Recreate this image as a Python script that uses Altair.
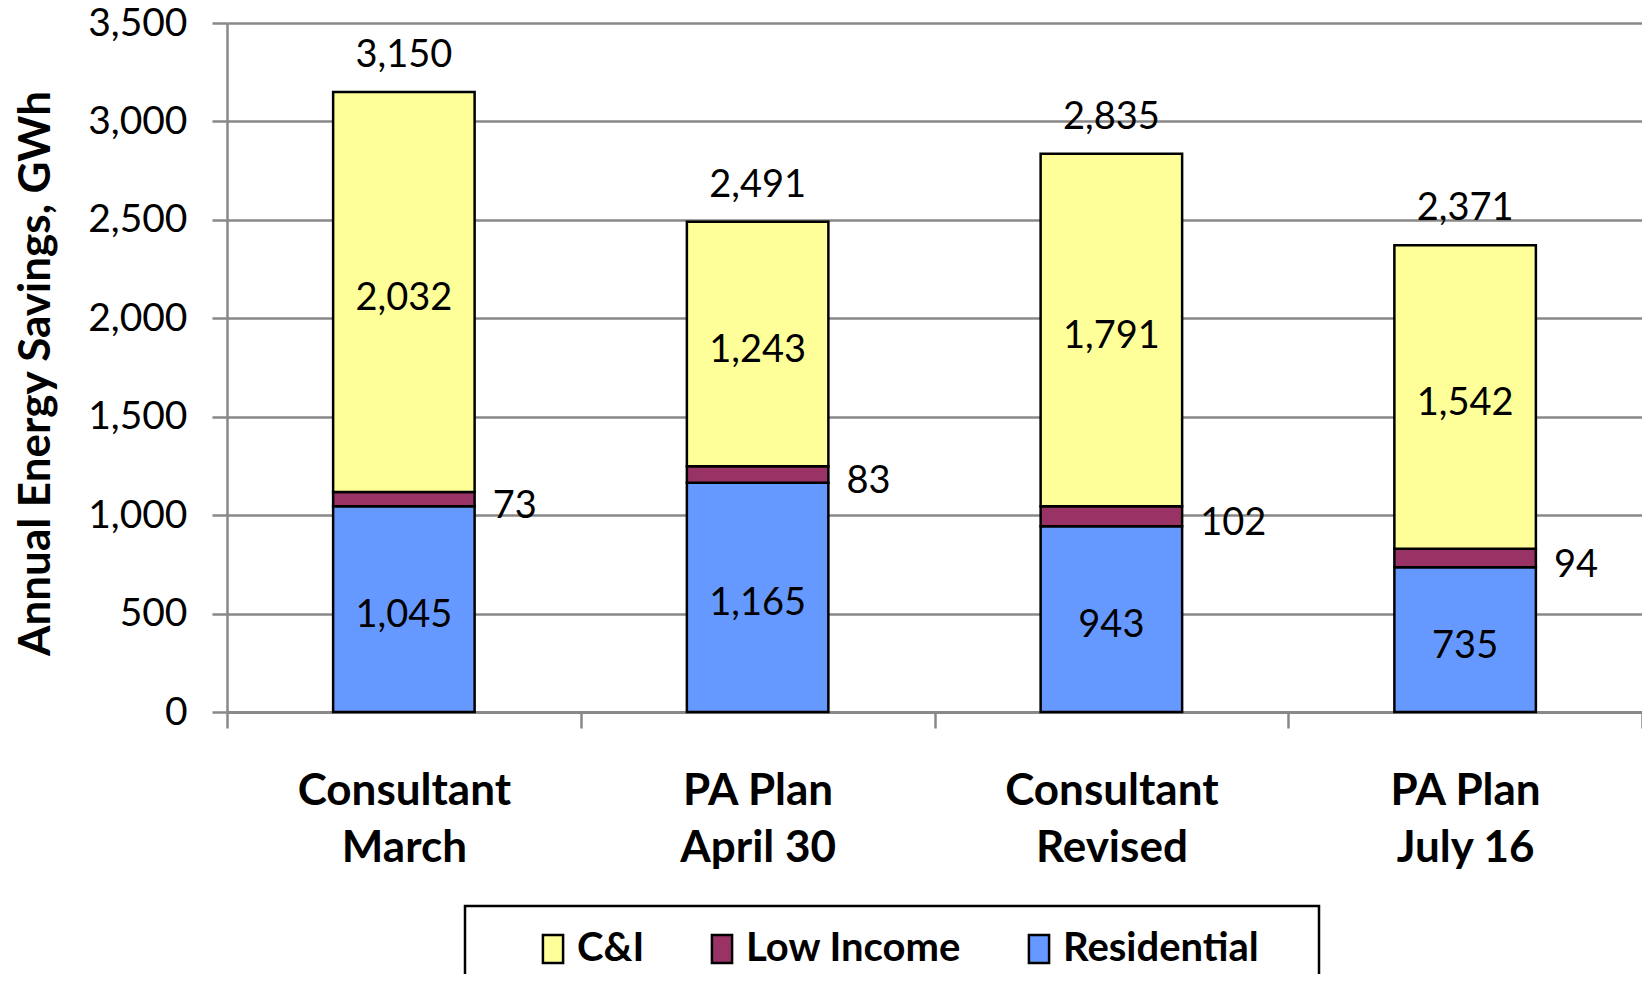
import altair as alt
import pandas as pd

categories = ["Consultant|March", "PA Plan|April 30", "Consultant|Revised", "PA Plan|July 16"]
residential = [1045, 1165, 943, 735]
low_income = [73, 83, 102, 94]
ci = [2032, 1243, 1791, 1542]
totals = [3150, 2491, 2835, 2371]

series_names = ["C&I", "Low Income", "Residential"]
series_colors = ["#FFFF99", "#993366", "#6699FF"]

rows = []
for i, cat in enumerate(categories):
    base = 0
    for name, vals in [("Residential", residential), ("Low Income", low_income), ("C&I", ci)]:
        v = vals[i]
        rows.append({"cat": cat, "series": name, "value": v, "y0": base, "y1": base + v,
                     "mid": base + v / 2, "label": f"{v:,}"})
        base += v
df = pd.DataFrame(rows)
tot_df = pd.DataFrame({"cat": categories, "total": totals, "label": [f"{t:,}" for t in totals]})

FONT = "Lato"
GRAY = "#888888"

xscale = alt.Scale(domain=categories, paddingInner=0, paddingOuter=0)
yscale = alt.Scale(domain=[0, 3500], nice=False)

x_axis = alt.Axis(title=None, labelAngle=0, tickBand="extent", tickSize=16, tickWidth=2.5,
                  tickColor=GRAY, domainColor=GRAY, domainWidth=3, labelFont=FONT,
                  labelFontWeight="bold", labelFontSize=44, labelLineHeight=57,
                  labelPadding=41, labelColor="black", labelExpr="split(datum.label, '|')",
                  labelLimit=1000, grid=False)
y_axis = alt.Axis(title="Annual Energy Savings, GWh", values=[0, 500, 1000, 1500, 2000, 2500, 3000, 3500],
                  format=",.0f", labelFont=FONT, labelFontSize=39, labelColor="black", labelPadding=25,
                  tickSize=15, tickWidth=2.5, tickColor=GRAY, gridColor=GRAY, gridWidth=2.5,
                  domainColor=GRAY, domainWidth=2.5, titleFont=FONT, titleFontWeight="bold",
                  titleFontSize=44, titleColor="black", titlePadding=29, titleY=350, labelLimit=1000)

bars = alt.Chart(df).mark_bar(stroke="black", strokeWidth=2.5, width=alt.RelativeBandSize(0.4)).encode(
    x=alt.X("cat:N", scale=xscale, axis=x_axis, sort=categories),
    y=alt.Y("y0:Q", scale=yscale, axis=y_axis),
    y2="y1:Q",
    color=alt.Color("series:N", scale=alt.Scale(domain=series_names, range=series_colors),
                    legend=alt.Legend(orient="none", legendX=306, legendY=906, direction="horizontal",
                                      title=None, symbolType="M-0.72,-1H0.72V1H-0.72Z", symbolSize=784,
                                      symbolStrokeColor="black", symbolStrokeWidth=2.5, symbolOpacity=1,
                                      labelFont=FONT, labelFontWeight="bold", labelFontSize=40,
                                      labelColor="black", labelOffset=4, columnPadding=57,
                                      labelLimit=1000)),
)

inner = alt.Chart(df).transform_filter(alt.datum.series != "Low Income").mark_text(
    font=FONT, fontSize=38, color="black", baseline="middle", dy=7
).encode(
    x=alt.X("cat:N", scale=xscale, sort=categories),
    y=alt.Y("mid:Q", scale=yscale),
    text="label:N",
)

side = alt.Chart(df).transform_filter(alt.datum.series == "Low Income").mark_text(
    font=FONT, fontSize=38, color="black", baseline="middle", align="left", dx=18, dy=8
).encode(
    x=alt.X("cat:N", scale=xscale, sort=categories, bandPosition=0.7),
    y=alt.Y("mid:Q", scale=yscale),
    text="label:N",
)

tops = alt.Chart(tot_df).mark_text(
    font=FONT, fontSize=38, color="black", baseline="alphabetic", dy=-25
).encode(
    x=alt.X("cat:N", scale=xscale, sort=categories),
    y=alt.Y("total:Q", scale=yscale),
    text="label:N",
)

frame = alt.Chart(pd.DataFrame({"a": [0]})).mark_rect(filled=False, stroke="black", strokeWidth=2.5).encode(
    x=alt.value(238), x2=alt.value(1092), y=alt.value(883), y2=alt.value(1000)
)

chart = alt.layer(bars, inner, side, tops, frame).properties(
    width=1415, height=689,
    padding={"left": 219, "top": 15, "right": 0, "bottom": 262},
    autosize=alt.AutoSizeParams(type="none"),
).configure_view(stroke=None)

chart.save("out.html", embed_options={"renderer": "svg", "actions": False})
